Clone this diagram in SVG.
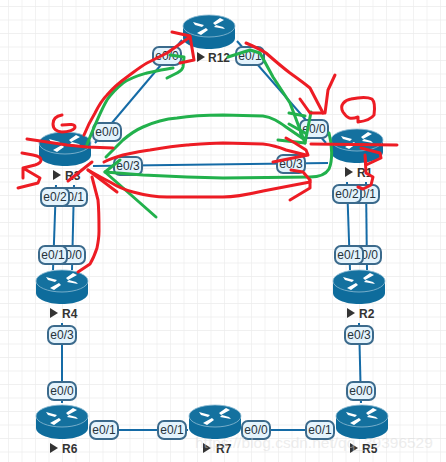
<svg xmlns="http://www.w3.org/2000/svg" width="446" height="462" viewBox="0 0 446 462">
<style>
.lk{stroke:#156ba6;stroke-width:2;fill:none}
.lb rect{fill:#e4f3fc;stroke:#3b6a8c;stroke-width:2}
.lb text{font:12px "Liberation Sans",sans-serif;fill:#26323a;text-anchor:middle}
.lb text.e{text-anchor:end}
.nm{font:bold 12px "Liberation Sans",sans-serif;fill:#333}
.pl{fill:#333}
.r{fill:none;stroke:#ed1c24;stroke-width:3;stroke-linecap:round;stroke-linejoin:round}
.g{fill:none;stroke:#22b14c;stroke-width:3;stroke-linecap:round;stroke-linejoin:round}
</style>
<defs>
<pattern id="grid" width="13.5" height="13.5" patternUnits="userSpaceOnUse" x="8" y="6">
<path d="M13.500 0H0V13.500" fill="none" stroke="#ececec" stroke-width="1.3"/>
</pattern>
<g id="router">
<path d="M0 11V23C0 29 11.500 34 26 34S52 29 52 23V11Z" fill="#0e6c9c"/>
<ellipse cx="26" cy="11" rx="26" ry="11" fill="#14719f" stroke="#8fbdd4" stroke-width="0.8"/>
<path d="M10 7L21 10L19 12L12 10L10 7ZM41 5L32 10L30 8L37 3ZM14 18L23 13L25 15L18 20ZM42 14L31 12L33 10L40 12Z" fill="#fff"/>
</g>
</defs>
<rect width="446" height="462" fill="#fff"/>
<rect width="446" height="462" fill="url(#grid)"/>
<g id="connectors">
<path class="lk" d="M95 143L182 40"/>
<path class="lk" d="M237 41L326 143"/>
<path class="lk" d="M93 166L328 163"/>
<path class="lk" d="M56 185L53 270"/>
<path class="lk" d="M74 185L72 270"/>
<path class="lk" d="M347 182L350 270"/>
<path class="lk" d="M366 182L367 270"/>
<path class="lk" d="M62 323V403"/>
<path class="lk" d="M359 323L361 403"/>
<path class="lk" d="M90 430H188"/>
<path class="lk" d="M243 430H335"/>
</g>
<g id="R12"><use href="#router" x="183" y="15"/><polygon class="pl" points="197,52 197,62 205,57"/><text class="nm" x="208" y="62">R12</text></g>
<g id="R3"><use href="#router" x="39" y="132"/><polygon class="pl" points="53,170 53,180 61,175"/><text class="nm" x="65" y="180">R3</text></g>
<g id="R1"><use href="#router" x="331" y="129"/><polygon class="pl" points="345,167 345,177 353,172"/><text class="nm" x="357" y="177">R1</text></g>
<g id="R4"><use href="#router" x="36" y="270"/><polygon class="pl" points="50,308 50,318 58,313"/><text class="nm" x="62" y="318">R4</text></g>
<g id="R2"><use href="#router" x="333" y="270"/><polygon class="pl" points="347,308 347,318 355,313"/><text class="nm" x="359" y="318">R2</text></g>
<g id="R6"><use href="#router" x="36" y="405"/><polygon class="pl" points="50,443 50,453 58,448"/><text class="nm" x="62" y="453">R6</text></g>
<g id="R7"><use href="#router" x="189" y="405"/><polygon class="pl" points="203,443 203,453 211,448"/><text class="nm" x="216" y="453">R7</text></g>
<g id="R5"><use href="#router" x="336" y="405"/><polygon class="pl" points="350,443 350,453 358,448"/><text class="nm" x="362" y="453">R5</text></g>
<g id="labels">
<g class="lb" transform="translate(167,56)"><rect x="-14" y="-9" width="28" height="18" rx="6"/><text y="4">e0/0</text></g>
<g class="lb" transform="translate(250,56)"><rect x="-14" y="-9" width="28" height="18" rx="6"/><text y="4">e0/1</text></g>
<g class="lb" transform="translate(107,132)"><rect x="-14" y="-9" width="28" height="18" rx="6"/><text y="4">e0/0</text></g>
<g class="lb" transform="translate(128,166)"><rect x="-14" y="-9" width="28" height="18" rx="6"/><text y="4">e0/3</text></g>
<g class="lb" transform="translate(73,197)"><rect x="-14" y="-9" width="28" height="18" rx="6"/><text class="e" x="11" y="4">0/1</text></g>
<g class="lb" transform="translate(55,197)"><rect x="-14" y="-9" width="28" height="18" rx="6"/><text y="4">e0/2</text></g>
<g class="lb" transform="translate(314,129)"><rect x="-14" y="-9" width="28" height="18" rx="6"/><text y="4">e0/0</text></g>
<g class="lb" transform="translate(291,164)"><rect x="-14" y="-9" width="28" height="18" rx="6"/><text y="4">e0/3</text></g>
<g class="lb" transform="translate(365,194)"><rect x="-14" y="-9" width="28" height="18" rx="6"/><text class="e" x="11" y="4">0/1</text></g>
<g class="lb" transform="translate(347,194)"><rect x="-14" y="-9" width="28" height="18" rx="6"/><text y="4">e0/2</text></g>
<g class="lb" transform="translate(71,255)"><rect x="-14" y="-9" width="28" height="18" rx="6"/><text class="e" x="11" y="4">0/0</text></g>
<g class="lb" transform="translate(53,255)"><rect x="-14" y="-9" width="28" height="18" rx="6"/><text y="4">e0/1</text></g>
<g class="lb" transform="translate(367,255)"><rect x="-14" y="-9" width="28" height="18" rx="6"/><text class="e" x="11" y="4">0/0</text></g>
<g class="lb" transform="translate(349,255)"><rect x="-14" y="-9" width="28" height="18" rx="6"/><text y="4">e0/1</text></g>
<g class="lb" transform="translate(62,335)"><rect x="-14" y="-9" width="28" height="18" rx="6"/><text y="4">e0/3</text></g>
<g class="lb" transform="translate(62,391)"><rect x="-14" y="-9" width="28" height="18" rx="6"/><text y="4">e0/0</text></g>
<g class="lb" transform="translate(359,335)"><rect x="-14" y="-9" width="28" height="18" rx="6"/><text y="4">e0/3</text></g>
<g class="lb" transform="translate(361,391)"><rect x="-14" y="-9" width="28" height="18" rx="6"/><text y="4">e0/0</text></g>
<g class="lb" transform="translate(104,430)"><rect x="-14" y="-9" width="28" height="18" rx="6"/><text y="4">e0/1</text></g>
<g class="lb" transform="translate(172,430)"><rect x="-14" y="-9" width="28" height="18" rx="6"/><text y="4">e0/1</text></g>
<g class="lb" transform="translate(256,430)"><rect x="-14" y="-9" width="28" height="18" rx="6"/><text y="4">e0/0</text></g>
<g class="lb" transform="translate(320,430)"><rect x="-14" y="-9" width="28" height="18" rx="6"/><text y="4">e0/1</text></g>
</g>
<g id="annotations">
<path class="g" d="M86 147C92 132 100 112 107 100C113 91 118 87 123 83C132 77 140 75 147 73C157 71 165 69 173 68"/>
<path class="g" d="M170 55L184 57L183 67C182 71 179 72 177 73L167 78"/>
<path class="g" d="M106 157L123 140C130 134 136 130 143 127C154 122 165 119 177 118C195 115 210 115 223 115L263 116C272 117 279 122 286 127L305 140"/>
<path class="g" d="M289 113L305 116M311 112L305 143L278 140M305 133L289 124"/>
<path class="g" d="M228 57L250 50L260 53L273 77L290 103L305 143"/>
<path class="g" d="M105 172L143 175L187 177L223 178L310 177C320 177 326 174 329 169C333 160 332 145 329 133"/>
<path class="g" d="M120 160L105 172L156 217"/>
<path class="r" d="M84 135C88 125 92 118 95 113C99 105 103 99 107 95C113 88 120 82 127 77C134 72 140 67 147 63C155 59 161 56 167 53L190 37"/>
<path class="r" d="M172 32L190 36L194 60L180 63"/>
<path class="r" d="M62 115C56 116 53 119 53 124C53 129 57 132 62 132C68 132 75 130 75 127C75 124 70 124 62 125"/>
<path class="r" d="M27 139L47 142L67 145L87 147L113 148"/>
<path class="r" d="M22 153L33 155C38 156 41 158 41 160C41 163 38 164 35 165L23 168L23 178M23 168L40 178L38 183L18 188"/>
<path class="r" d="M92 162L68 181"/>
<path class="r" d="M104 162C110 159 116 157 123 155C132 153 141 151 150 150C162 148 175 146 187 145C200 144 212 143 223 143L263 144C272 145 279 147 286 150L306 155"/>
<path class="r" d="M286 138L295 143L306 150L308 155L273 162M291 170L303 172L310 180"/>
<path class="r" d="M88 170C95 174 102 178 110 182C118 187 125 190 133 192C144 195 155 197 167 197H223C238 197 250 194 263 191L310 182"/>
<path class="r" d="M310 180V188L290 200"/>
<path class="r" d="M88 170L117 192"/>
<path class="r" d="M92 177L98 200C99 210 99 220 99 231C99 238 98 243 97 248C95 254 93 259 90 264L78 272"/>
<path class="r" d="M246 43C253 46 260 49 266 53C274 60 282 67 290 73C297 78 304 83 310 88L323 113"/>
<path class="r" d="M300 99L310 113H325L328 90L335 75"/>
<path class="r" d="M343 112C339 105 345 100 351 99C360 97 368 97 372 99C375 102 375 108 374 115C372 118 366 121 358 122L358 117C350 120 347 118 343 112Z"/>
<path class="r" d="M311 144L397 145"/>
<path class="r" d="M361 148L380 153L381 158L366 165L365 155L366 173L373 177L371 185L363 189L358 187"/>
</g>
<text x="195" y="448" font-family="Liberation Sans, sans-serif" font-size="15.500" fill="#d8d8d8" opacity="0.45">https://blog.csdn.net/qq_39396529</text>
</svg>
